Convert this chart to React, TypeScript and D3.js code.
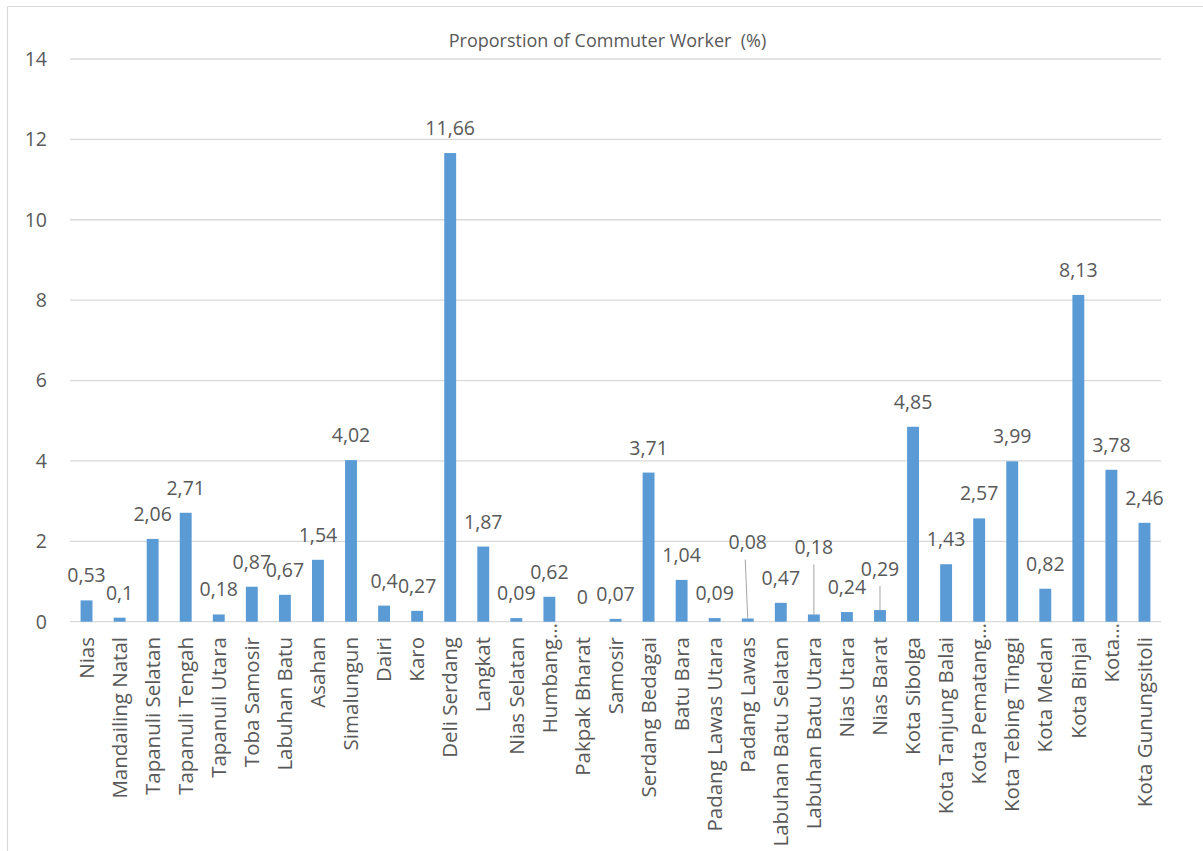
import React from "react";
import * as d3 from "d3";

const categories: string[] = [
  "Nias", "Mandailing Natal", "Tapanuli Selatan", "Tapanuli Tengah", "Tapanuli Utara",
  "Toba Samosir", "Labuhan Batu", "Asahan", "Simalungun", "Dairi", "Karo",
  "Deli Serdang", "Langkat", "Nias Selatan", "Humbang…", "Pakpak Bharat", "Samosir",
  "Serdang Bedagai", "Batu Bara", "Padang Lawas Utara", "Padang Lawas",
  "Labuhan Batu Selatan", "Labuhan Batu Utara", "Nias Utara", "Nias Barat",
  "Kota Sibolga", "Kota Tanjung Balai", "Kota Pematang…", "Kota Tebing Tinggi",
  "Kota Medan", "Kota Binjai", "Kota…", "Kota Gunungsitoli",
];

const values: number[] = [
  0.53, 0.1, 2.06, 2.71, 0.18, 0.87, 0.67, 1.54, 4.02, 0.4, 0.27,
  11.66, 1.87, 0.09, 0.62, 0, 0.07, 3.71, 1.04, 0.09, 0.08,
  0.47, 0.18, 0.24, 0.29, 4.85, 1.43, 2.57, 3.99, 0.82, 8.13, 3.78, 2.46,
];

const yTicks: number[] = [0, 2, 4, 6, 8, 10, 12, 14];
const title = "Proporstion of Commuter Worker \u00A0(%)";

// labels lifted with leader lines (extra offset in px)
const leaderLabels: Record<string, number> = {
  "Padang Lawas": 51,
  "Labuhan Batu Utara": 42,
  "Nias Barat": 16,
};

const FONT = "'Open Sans', 'Noto Sans', sans-serif";
const TEXT = "#595959";
const GRID = "#D9D9D9";
const BAR = "#5B9BD5";

export default function App() {
  const W = 1203, H = 851;
  const x = d3.scaleBand<string>()
    .domain(categories)
    .range([70, 1161])
    .paddingInner(0.64)
    .paddingOuter(0.32);
  const y = d3.scaleLinear().domain([0, 14]).range([621.7, 59]);
  const fmt = (v: number) => String(v).replace(".", ",");

  return (
    <svg width={W} height={H} style={{ position: "absolute", left: 0, top: 0, background: "#fff" }}
      fontFamily={FONT}>
      <rect x={0} y={0} width={W} height={H} fill="#fff" />
      <line x1={7.5} x2={7.5} y1={6.5} y2={H} stroke={GRID} strokeWidth={1.2} />
      <line x1={7.5} x2={W} y1={6.5} y2={6.5} stroke={GRID} strokeWidth={1.2} />
      <text x={607.5} y={47} textAnchor="middle" fontSize={18} fill={TEXT}>{title}</text>
      {yTicks.map((t) => (
        <g key={t}>
          <line x1={70} x2={1161} y1={y(t)} y2={y(t)} stroke={GRID} strokeWidth={1.3} />
          <text x={47} y={y(t)} dy="0.35em" textAnchor="end" fontSize={19.5} fill={TEXT}>{t}</text>
        </g>
      ))}
      {categories.map((c, i) => {
        const v = values[i];
        const bx = x(c)!;
        const cx = bx + x.bandwidth() / 2;
        const top = y(v);
        const lift = leaderLabels[c] ?? 0;
        const base = top - 18 - lift;
        const truncated = c.endsWith("…");
        return (
          <g key={c}>
            {v > 0 && (
              <rect x={bx} y={top} width={x.bandwidth()} height={y(0) - top} fill={BAR} />
            )}
            {lift > 0 && (
              <line x1={cx - (c === "Padang Lawas" ? 2.5 : 0)} y1={base + 10} x2={cx} y2={top}
                stroke="#A6A6A6" strokeWidth={1} />
            )}
            <text x={cx} y={base} textAnchor="middle" fontSize={19.5} fill={TEXT}>{fmt(v)}</text>
            <text
              transform={`translate(${cx},${truncated ? 623 : 637}) rotate(-90)`}
              dy="0.35em" textAnchor="end" fontSize={20.5} fill={TEXT}>{c}</text>
          </g>
        );
      })}
    </svg>
  );
}
